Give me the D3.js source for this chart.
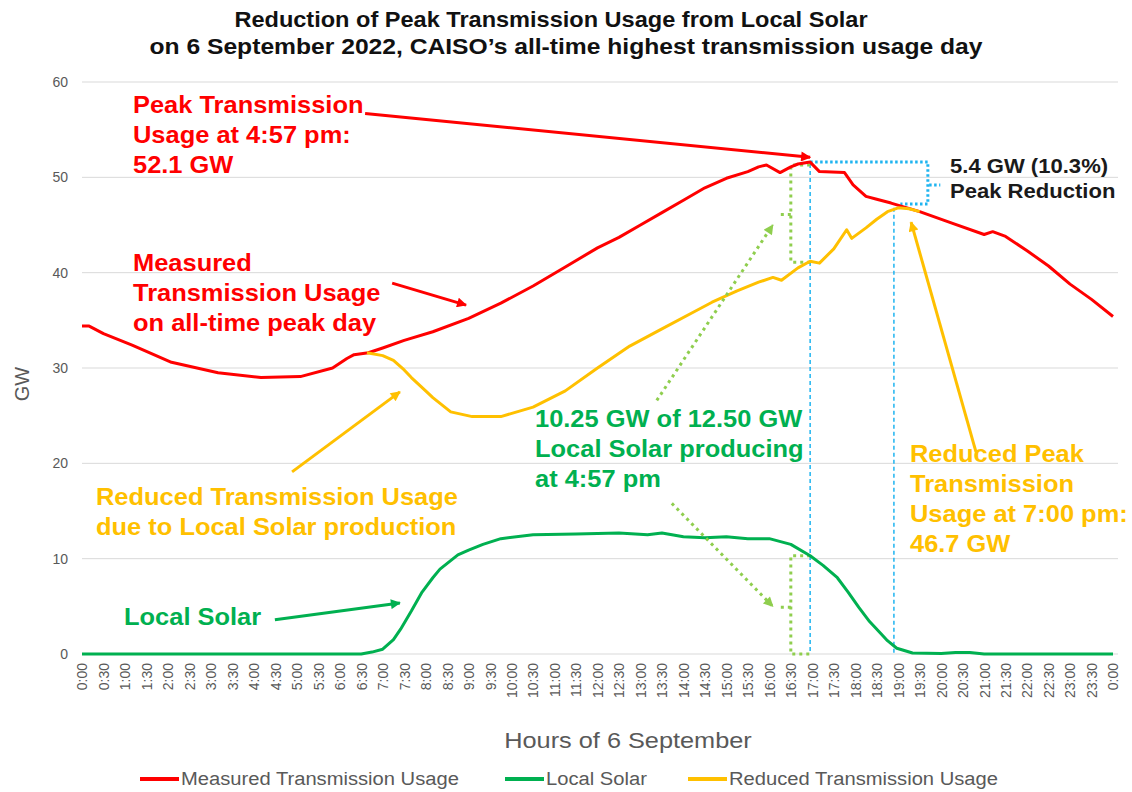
<!DOCTYPE html>
<html>
<head>
<meta charset="utf-8">
<script src="https://cdn.jsdelivr.net/npm/d3@7"></script>
<style>
  body { margin: 0; background: #fff; }
  svg text { font-family: "Liberation Sans", Arial, sans-serif; }
</style>
</head>
<body>
<div id="chart"></div>
<script>
// ---- data (GW) ----
const measuredTimes = ["0:00","0:10","0:30","1:10","2:05","3:10","4:10","5:05","5:50","6:10","6:20","6:40","7:00","7:30","8:10","9:00","9:45","10:30","11:15","12:00","12:30","13:00","13:30","14:00","14:30","15:00","15:30","15:45","15:56","16:15","16:30","16:40","16:57","17:10","17:45","17:57","18:15","18:30","18:50","19:30","20:15","21:00","21:12","21:30","22:00","22:30","23:00","23:30","24:00"];
const measuredGW = [34.4,34.4,33.6,32.4,30.6,29.5,29.0,29.1,30.0,31.0,31.4,31.6,32.1,32.9,33.8,35.2,36.8,38.6,40.6,42.6,43.7,45.0,46.3,47.6,48.9,49.9,50.6,51.1,51.3,50.5,51.1,51.4,51.6,50.6,50.5,49.2,48.0,47.7,47.3,46.4,45.2,44.0,44.3,43.8,42.3,40.7,38.8,37.2,35.4];

const solarTimes = ["0:00","6:30","6:45","7:00","7:15","7:25","7:40","7:55","8:10","8:20","8:45","9:00","9:20","9:45","10:30","11:30","12:30","13:10","13:30","14:00","14:30","15:00","15:30","16:00","16:30","16:57","17:15","17:35","17:50","18:05","18:20","18:35","18:45","18:58","19:20","20:00","20:20","20:40","21:00","24:00"];
const solarGW = [0,0,0.2,0.5,1.5,2.6,4.5,6.5,8.0,8.9,10.4,10.9,11.5,12.1,12.5,12.6,12.7,12.5,12.7,12.3,12.2,12.3,12.1,12.1,11.5,10.3,9.3,8.0,6.5,4.9,3.4,2.2,1.4,0.6,0.1,0.05,0.15,0.15,0,0];

const reducedTimes = ["6:38","7:00","7:15","7:30","7:40","8:00","8:10","8:35","9:05","9:45","10:30","11:15","12:00","12:45","13:30","14:15","14:40","15:15","15:45","16:05","16:17","16:40","16:57","17:10","17:30","17:48","17:55","18:15","18:30","18:45","19:00","19:15","19:30"];
const reducedGW = [31.6,31.3,30.8,29.8,29.0,27.6,26.9,25.4,24.9,24.9,25.9,27.6,30.0,32.3,34.1,35.9,36.9,38.1,39.0,39.5,39.2,40.5,41.2,41.0,42.5,44.5,43.6,44.7,45.6,46.4,46.8,46.7,46.4];

const yTicks = [0, 10, 20, 30, 40, 50, 60];
const xTickLabels = ["0:00","0:30","1:00","1:30","2:00","2:30","3:00","3:30","4:00","4:30","5:00","5:30","6:00","6:30","7:00","7:30","8:00","8:30","9:00","9:30","10:00","10:30","11:00","11:30","12:00","12:30","13:00","13:30","14:00","14:30","15:00","15:30","16:00","16:30","17:00","17:30","18:00","18:30","19:00","19:30","20:00","20:30","21:00","21:30","22:00","22:30","23:00","23:30","0:00"];

const seriesNames = ["Measured Transmission Usage", "Local Solar", "Reduced Transmission Usage"];
const RED = "#ff0000", GREEN = "#00b050", YELLOW = "#ffc000", LIGHTGREEN = "#8fce4e", BLUE = "#1fb4f0";

const toHours = s => { const p = s.split(":"); return +p[0] + (+p[1]) / 60; };
const pairs = (times, vals) => times.map((t, i) => [toHours(t), vals[i]]);

// the original picture is a bit wider than its font, so widen text a little
function widen(sel, k) {
  sel.each(function () {
    const len = this.getComputedTextLength();
    d3.select(this).attr("textLength", len * k).attr("lengthAdjust", "spacingAndGlyphs");
  });
}

const width = 1132, height = 792;
const svg = d3.select("#chart").append("svg")
  .attr("width", width).attr("height", height);

const x = d3.scaleLinear().domain([0, 24]).range([82, 1113]);
const y = d3.scaleLinear().domain([0, 60]).range([654, 82]);

// gridlines
svg.append("g").selectAll("line").data(yTicks).join("line")
  .attr("x1", x(0)).attr("x2", x(24) + 5)
  .attr("y1", d => y(d)).attr("y2", d => y(d))
  .attr("stroke", "#d9d9d9").attr("stroke-width", 1);

// y axis
const yAxis = svg.append("g").attr("transform", "translate(68,0)")
  .call(d3.axisLeft(y).tickValues(yTicks).tickSize(0).tickPadding(0));
yAxis.select(".domain").remove();
yAxis.selectAll("text").attr("font-size", 14).attr("fill", "#595959");

// x axis
const xAxis = svg.append("g").attr("transform", `translate(0,${y(0)})`)
  .call(d3.axisBottom(x).tickValues(d3.range(0, 24.01, 0.5)).tickSize(0)
    .tickFormat((d, i) => xTickLabels[i]));
xAxis.select(".domain").remove();
xAxis.selectAll("text")
  .attr("font-size", 14).attr("fill", "#595959")
  .attr("transform", "rotate(-90)")
  .attr("text-anchor", "end")
  .attr("x", -9).attr("y", 0).attr("dy", "0.35em");

// axis titles
svg.append("text").attr("x", 628).attr("y", 748).attr("text-anchor", "middle")
  .attr("font-size", 22).attr("fill", "#595959").text("Hours of 6 September")
  .call(widen, 1.15);
svg.append("text").attr("transform", "translate(29,384) rotate(-90)").attr("text-anchor", "middle")
  .attr("font-size", 20).attr("fill", "#595959").text("GW");

// title
svg.append("text").attr("x", 551).attr("y", 27).attr("text-anchor", "middle")
  .attr("font-size", 22).attr("font-weight", "bold").attr("fill", "#111")
  .text("Reduction of Peak Transmission Usage from Local Solar")
  .call(widen, 1.07);
svg.append("text").attr("x", 566).attr("y", 54).attr("text-anchor", "middle")
  .attr("font-size", 22).attr("font-weight", "bold").attr("fill", "#111")
  .text("on 6 September 2022, CAISO\u2019s all-time highest transmission usage day")
  .call(widen, 1.12);

// markers
const defs = svg.append("defs");
[["red", RED], ["yellow", YELLOW], ["green", GREEN], ["lg", LIGHTGREEN]].forEach(([id, c]) => {
  defs.append("marker").attr("id", "ah-" + id)
    .attr("viewBox", "0 0 10 10").attr("refX", 9).attr("refY", 5)
    .attr("markerWidth", 13).attr("markerHeight", 10)
    .attr("markerUnits", "userSpaceOnUse").attr("orient", "auto")
    .append("path").attr("d", "M0,0 L10,5 L0,10 Z").attr("fill", c);
});

const line = d3.line().x(d => x(d[0])).y(d => y(d[1]));

// blue dashed verticals + dotted bracket
const guide = svg.append("g").attr("fill", "none");
guide.append("line").attr("x1", x(16.95)).attr("x2", x(16.95)).attr("y1", y(51.4)).attr("y2", y(0))
  .attr("stroke", BLUE).attr("stroke-width", 1.5).attr("stroke-dasharray", "4,3");
guide.append("line").attr("x1", x(18.9)).attr("x2", x(18.9)).attr("y1", y(46.8)).attr("y2", y(0))
  .attr("stroke", BLUE).attr("stroke-width", 1.5).attr("stroke-dasharray", "4,3");
guide.append("path")
  .attr("d", line([[16.95, 51.6], [19.69, 51.6], [19.69, 47.2], [19.05, 47.2]]))
  .attr("stroke", BLUE).attr("stroke-width", 3).attr("stroke-dasharray", "2.5,2.5");
guide.append("path").attr("d", line([[19.72, 49.2], [19.98, 49.2]]))
  .attr("stroke", BLUE).attr("stroke-width", 3).attr("stroke-dasharray", "2.5,2.5");

// green dotted brackets
guide.append("path").attr("d", line([[16.95, 51.3], [16.5, 51.3], [16.5, 41.1], [16.95, 41.1]]))
  .attr("stroke", LIGHTGREEN).attr("stroke-width", 3).attr("stroke-dasharray", "3,4");
guide.append("path").attr("d", line([[16.5, 46.1], [16.22, 46.1]]))
  .attr("stroke", LIGHTGREEN).attr("stroke-width", 3).attr("stroke-dasharray", "3,4");
guide.append("path").attr("d", line([[16.95, 10.3], [16.5, 10.3], [16.5, 0], [16.95, 0]]))
  .attr("stroke", LIGHTGREEN).attr("stroke-width", 3).attr("stroke-dasharray", "3,4");
guide.append("path").attr("d", line([[16.5, 4.9], [16.22, 4.9]]))
  .attr("stroke", LIGHTGREEN).attr("stroke-width", 3).attr("stroke-dasharray", "3,4");

// series
const series = [
  { name: seriesNames[0], data: pairs(measuredTimes, measuredGW), color: RED },
  { name: seriesNames[1], data: pairs(solarTimes, solarGW), color: GREEN },
  { name: seriesNames[2], data: pairs(reducedTimes, reducedGW), color: YELLOW }
];
svg.append("g").selectAll("path").data(series).join("path")
  .attr("d", d => line(d.data))
  .attr("fill", "none").attr("stroke", d => d.color)
  .attr("stroke-width", 3).attr("stroke-linejoin", "round");

// annotation arrows (in data coordinates)
const arrows = [
  { from: [6.59, 56.7], to: [16.95, 52.1], c: RED, m: "red" },
  { from: [7.22, 38.9], to: [8.94, 36.6], c: RED, m: "red" },
  { from: [4.89, 19.1], to: [7.40, 27.5], c: YELLOW, m: "yellow" },
  { from: [4.49, 3.6], to: [7.40, 5.35], c: GREEN, m: "green" },
  { from: [20.81, 21.2], to: [19.30, 45.3], c: YELLOW, m: "yellow" },
  { from: [13.38, 26.6], to: [16.08, 45.0], c: LIGHTGREEN, m: "lg", dot: true },
  { from: [13.73, 15.8], to: [16.08, 5.0], c: LIGHTGREEN, m: "lg", dot: true }
];
svg.append("g").selectAll("line").data(arrows).join("line")
  .attr("x1", d => x(d.from[0])).attr("y1", d => y(d.from[1]))
  .attr("x2", d => x(d.to[0])).attr("y2", d => y(d.to[1]))
  .attr("stroke", d => d.c).attr("stroke-width", 3)
  .attr("stroke-dasharray", d => d.dot ? "3,4" : null)
  .attr("marker-end", d => `url(#ah-${d.m})`);

// annotation texts
const notes = [
  { x: 133, y: 113, c: RED, lines: ["Peak Transmission", "Usage at 4:57 pm:", "52.1 GW"] },
  { x: 133, y: 271, c: RED, lines: ["Measured", "Transmission Usage", "on all-time peak day"] },
  { x: 96, y: 505, c: YELLOW, lines: ["Reduced Transmission Usage", "due to Local Solar production"] },
  { x: 124, y: 625, c: GREEN, lines: ["Local Solar"] },
  { x: 535, y: 427, c: GREEN, lines: ["10.25 GW of 12.50 GW", "Local Solar producing", "at 4:57 pm"] },
  { x: 910, y: 462, c: YELLOW, lines: ["Reduced Peak", "Transmission", "Usage at 7:00 pm:", "46.7 GW"] }
];
notes.forEach(n => {
  const t = svg.append("text").attr("x", n.x).attr("y", n.y)
    .attr("font-size", 24).attr("font-weight", "bold").attr("fill", n.c);
  n.lines.forEach((l, i) => t.append("tspan").attr("x", n.x).attr("dy", i ? 30 : 0).text(l));
  t.selectAll("tspan").call(widen, 1.06);
});
const pk = svg.append("text").attr("x", 950).attr("y", 173)
  .attr("font-size", 21).attr("font-weight", "bold").attr("fill", "#1a1a1a");
["5.4 GW (10.3%)", "Peak Reduction"].forEach((l, i) => pk.append("tspan").attr("x", 950).attr("dy", i ? 25 : 0).text(l));
pk.selectAll("tspan").call(widen, 1.05);

// legend
const legendX = [140, 505, 688];
const lg = svg.append("g").selectAll("g").data(series).join("g")
  .attr("transform", (d, i) => `translate(${legendX[i]},779)`);
lg.append("line").attr("x1", 0).attr("x2", 39).attr("y1", 0).attr("y2", 0)
  .attr("stroke", d => d.color).attr("stroke-width", 4);
lg.append("text").attr("x", 41).attr("y", 0).attr("dy", "0.35em")
  .attr("font-size", 18).attr("fill", "#595959").text(d => d.name)
  .call(widen, 1.12);
</script>
</body>
</html>
